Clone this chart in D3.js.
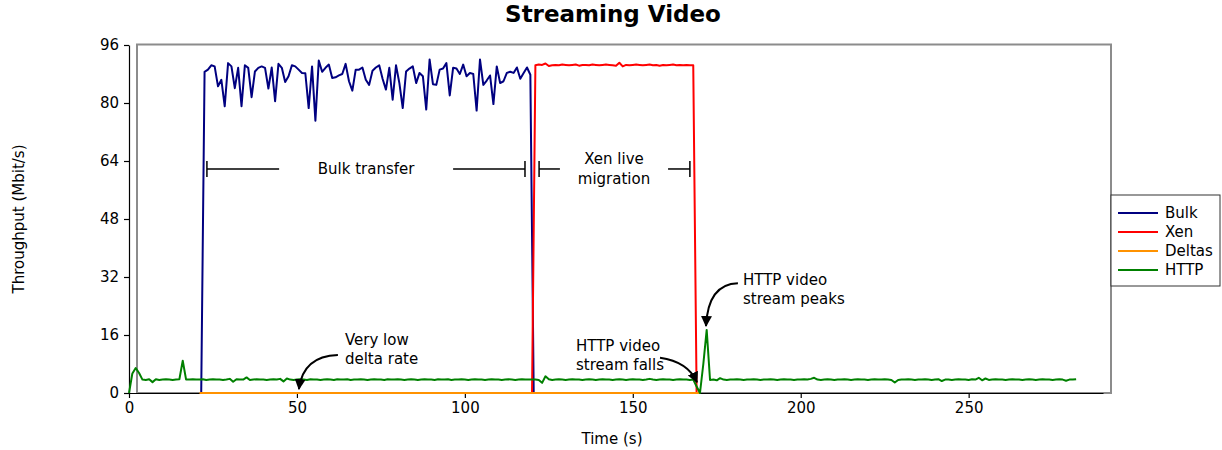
<!DOCTYPE html>
<html lang="en">
<head>
<meta charset="utf-8">
<style>
  body { margin: 0; background: #fff; font-family: "DejaVu Sans", sans-serif; }
  svg text { font-family: "DejaVu Sans", sans-serif; }
  .axis text { font-size: 15px; fill: #000; }
  .axis path, .axis line { stroke: #000; stroke-width: 1.2px; }
  .series { fill: none; stroke-width: 2px; stroke-linejoin: round; }
  .note { font-size: 15px; fill: #000; }
</style>
</head>
<body>
<div id="chart"></div>
<script src="https://d3js.org/d3.v7.min.js"></script>
<script>
  // time axis in seconds, one sample per second
  var xTicks = [0, 50, 100, 150, 200, 250];
  var yTicks = [0, 16, 32, 48, 64, 80, 96];

  var seriesNames = ["Bulk", "Xen", "Deltas", "HTTP"];
  var seriesColors = ["#000080", "#ff0000", "#ff9200", "#008000"];

  var bulkStart = 21.5;
  var bulkValues = [0,
    88.6, 89.2, 90.4, 90.1, 84.6, 86.4, 79.1, 91.0, 90.1, 84.1,
    89.7, 79.1, 90.4, 89.7, 81.6, 88.7, 89.7, 90.1, 89.7, 84.0,
    89.8, 80.5, 90.8, 89.7, 85.8, 87.4, 90.4, 90.1, 89.2, 88.3,
    88.2, 78.6, 90.1, 75.1, 91.7, 88.6, 89.7, 90.6, 86.9, 87.1,
    87.6, 88.0, 90.8, 86.0, 83.4, 89.2, 89.2, 89.8, 86.4, 85.0,
    88.9, 89.8, 90.4, 86.7, 83.7, 89.7, 80.9, 90.4, 85.5, 78.6,
    88.7, 89.5, 90.1, 85.5, 88.3, 87.4, 78.2, 92.0, 85.2, 85.0,
    89.2, 89.5, 91.0, 82.1, 89.7, 89.5, 88.0, 90.6, 87.4, 88.3,
    88.0, 77.9, 92.0, 85.0, 86.2, 87.6, 79.7, 90.1, 85.5, 86.0,
    88.3, 88.6, 88.3, 89.8, 86.7, 88.3, 89.8, 87.8,
    0];

  var xenStart = 120;
  var xenValues = [0,
    90.4, 90.6, 90.5, 90.9, 90.2, 90.4, 90.5, 90.4, 90.6, 90.5,
    90.4, 90.5, 90.6, 90.3, 90.5, 90.5, 90.4, 90.6, 90.5, 90.4,
    90.5, 90.6, 90.5, 90.4, 90.3, 91.1, 90.1, 90.5, 90.4, 90.5,
    90.6, 90.5, 90.4, 90.5, 90.6, 90.4, 90.5, 90.3, 90.5, 90.4,
    90.5, 90.6, 90.4, 90.5, 90.4, 90.5, 90.4, 90.4,
    0];

  var deltaStart = 21;
  var deltaValues = [
    0.0, 0.0, 0.0, 0.0, 0.0, 0.0, 0.0, 0.0, 0.0, 0.0, 0.0, 0.0, 0.0, 0.0, 0.0,
    0.0, 0.0, 0.0, 0.0, 0.0, 0.0, 0.0, 0.0, 0.0, 0.0, 0.0, 0.0, 0.0, 0.0, 0.0,
    0.0, 0.0, 0.0, 0.0, 0.0, 0.0, 0.0, 0.0, 0.0, 0.0, 0.0, 0.0, 0.0, 0.0, 0.0,
    0.0, 0.0, 0.0, 0.0, 0.0, 0.0, 0.0, 0.0, 0.0, 0.0, 0.0, 0.0, 0.0, 0.0, 0.0,
    0.0, 0.0, 0.0, 0.0, 0.0, 0.0, 0.0, 0.0, 0.0, 0.0, 0.0, 0.0, 0.0, 0.0, 0.0,
    0.0, 0.0, 0.0, 0.0, 0.0, 0.0, 0.0, 0.0, 0.0, 0.0, 0.0, 0.0, 0.0, 0.0, 0.0,
    0.0, 0.0, 0.0, 0.0, 0.0, 0.0, 0.0, 0.0, 0.0, 0.0, 0.0, 0.0, 0.0, 0.0, 0.0,
    0.0, 0.0, 0.0, 0.0, 0.0, 0.0, 0.0, 0.0, 0.0, 0.0, 0.0, 0.0, 0.0, 0.0, 0.0,
    0.0, 0.0, 0.0, 0.0, 0.0, 0.0, 0.0, 0.0, 0.0, 0.0, 0.0, 0.0, 0.0, 0.0, 0.0,
    0.0, 0.0, 0.0, 0.0, 0.0, 0.0, 0.0, 0.0, 0.0, 0.0, 0.0, 0.0, 0.0, 0.0, 0.0];

  var httpStart = 0;
  var httpValues = [
    0.0, 5.4, 6.9, 5.5, 3.7, 3.6, 3.8, 3.0, 3.8, 3.6, 3.7, 3.8, 3.7, 3.6, 3.7, 3.8, 8.9, 3.7, 3.7, 3.8,
    3.7, 3.7, 3.8, 3.6, 3.7, 3.8, 3.7, 3.7, 3.6, 3.7, 3.9, 3.1, 3.8, 3.7, 3.7, 4.3, 3.6, 3.7, 3.8, 3.7,
    3.7, 3.6, 3.7, 3.8, 3.7, 3.9, 3.2, 4.0, 3.7, 3.6, 3.7, 3.8, 3.7, 3.6, 3.8, 3.7, 3.7, 3.6, 3.7, 3.8,
    3.7, 3.6, 3.8, 3.7, 3.7, 3.8, 3.6, 3.7, 3.7, 3.8, 3.7, 3.6, 3.7, 3.8, 3.7, 3.7, 3.6, 3.8, 3.7, 3.7,
    3.8, 3.7, 3.6, 3.7, 3.8, 3.7, 3.6, 3.7, 3.8, 3.7, 3.7, 3.6, 3.8, 3.7, 3.7, 3.8, 3.6, 3.7, 3.7, 3.8,
    3.7, 3.6, 3.7, 3.8, 3.7, 3.7, 3.6, 3.7, 3.8, 3.7, 3.7, 3.6, 3.7, 3.8, 3.7, 3.6, 3.7, 3.8, 3.7, 3.7,
    3.7, 3.7, 3.6, 2.8, 4.6, 3.8, 3.6, 3.7, 3.8, 3.7, 3.6, 3.7, 3.8, 3.7, 3.7, 3.6, 3.7, 3.8, 3.7, 3.6,
    3.7, 3.8, 3.7, 3.7, 3.6, 3.7, 3.8, 3.7, 3.6, 3.7, 3.8, 3.7, 3.7, 3.6, 3.7, 3.9, 3.7, 3.6, 3.7, 3.8,
    3.7, 3.7, 3.6, 3.7, 3.8, 3.7, 3.7, 3.6, 3.7, 1.8, 0.0, 8.0, 17.4, 3.6, 3.7, 3.5, 4.1, 3.7, 3.6, 3.7,
    3.7, 3.8, 3.7, 3.6, 3.7, 3.7, 3.8, 3.7, 3.6, 3.7, 3.7, 3.8, 3.7, 3.6, 3.7, 3.8, 3.7, 3.7, 3.6, 3.7,
    3.7, 3.8, 3.7, 3.9, 4.2, 3.7, 3.6, 3.7, 3.8, 3.7, 3.6, 3.7, 3.7, 3.8, 3.7, 3.6, 3.7, 3.8, 3.7, 3.7,
    3.6, 3.7, 3.8, 3.7, 3.7, 3.8, 3.7, 3.6, 2.9, 3.6, 3.7, 3.7, 3.8, 3.7, 3.6, 3.7, 3.7, 3.8, 3.7, 3.6,
    3.7, 3.8, 3.3, 3.7, 3.7, 3.6, 3.7, 3.8, 3.7, 3.7, 3.6, 3.8, 3.7, 4.2, 3.5, 4.0, 3.6, 3.7, 3.8, 3.7,
    3.7, 3.6, 3.7, 3.8, 3.7, 3.7, 3.6, 3.7, 3.8, 3.7, 3.6, 3.7, 3.8, 3.7, 3.7, 3.6, 3.7, 3.8, 3.7, 3.4,
    3.7, 3.7, 3.8];

  // annotation texts, anchored in data units (t, Mbit/s)
  var bracketLabels = [["Bulk transfer"], ["Xen live", "migration"]];
  var bracketSpans = [[23.2, 44.7, 96.5, 117.9], [122.1, 128.3, 160.5, 167.0]];
  var bracketLevel = 61.8;

  var noteLines = [["Very low", "delta rate"], ["HTTP video", "stream falls"], ["HTTP video", "stream peaks"]];
  var noteAnchors = [[64.3, 14.6], [133.1, 13.0], [182.8, 31.2]];
  var arrowPaths = [
    [[62.2, 10.5], [51.8, 10.2], [50.6, 1.1]],
    [[158.1, 9.7], [166.4, 8.6], [169.1, 3.0]],
    [[181.3, 30.3], [172.4, 30.1], [171.8, 18.5]]
  ];

  var width = 1222, height = 450;
  var margin = {left: 129, right: 119, top: 45, bottom: 57};

  var svg = d3.select("#chart").append("svg")
      .attr("width", width)
      .attr("height", height);

  var x = d3.scaleLinear().domain([0, 290]).range([margin.left, width - margin.right]);
  var y = d3.scaleLinear().domain([0, 96]).range([height - margin.bottom, margin.top]);

  // grey frame, shifted right of the axes
  svg.append("rect")
      .attr("x", x(0) + 8).attr("y", y(96) - 0.5)
      .attr("width", x(290) - x(0)).attr("height", y(0) - y(96) + 0.5)
      .attr("fill", "none").attr("stroke", "#8c8c8c").attr("stroke-width", 2);

  var line = d3.line().x(function (d) { return x(d[0]); }).y(function (d) { return y(d[1]); });

  function toPoints(start, values) {
      return values.map(function (v, i) { return [start + i, v]; });
  }

  var allSeries = [
      toPoints(bulkStart, bulkValues),
      toPoints(xenStart, xenValues),
      toPoints(deltaStart, deltaValues),
      toPoints(httpStart, httpValues)
  ];

  svg.append("g").attr("class", "axis")
      .attr("transform", "translate(0," + y(0) + ")")
      .call(d3.axisBottom(x).tickValues(xTicks).tickSize(5).tickSizeOuter(0).tickPadding(4));

  svg.append("g").attr("class", "axis")
      .attr("transform", "translate(" + x(0) + ",0)")
      .call(d3.axisLeft(y).tickValues(yTicks).tickSize(5).tickSizeOuter(0).tickPadding(5));

  svg.selectAll("path.series")
      .data(allSeries)
      .enter().append("path")
      .attr("class", "series")
      .attr("stroke", function (d, i) { return seriesColors[i]; })
      .attr("stroke-width", function (d, i) { return i === 2 ? 2.5 : 2; })
      .attr("d", line);

  // title and axis labels
  svg.append("text").attr("x", 613).attr("y", 22)
      .attr("text-anchor", "middle").attr("font-size", 23).attr("font-weight", "bold")
      .text("Streaming Video");
  svg.append("text").attr("x", 612).attr("y", 444)
      .attr("text-anchor", "middle").attr("font-size", 15)
      .text("Time (s)");
  svg.append("text")
      .attr("transform", "translate(24," + y(48) + ") rotate(-90)")
      .attr("text-anchor", "middle").attr("font-size", 15)
      .text("Throughput (Mbit/s)");

  // brackets
  bracketSpans.forEach(function (s, i) {
      var g = svg.append("g").attr("stroke", "#000").attr("stroke-width", 1.5);
      var yy = y(bracketLevel);
      g.append("line").attr("x1", x(s[0])).attr("x2", x(s[1])).attr("y1", yy).attr("y2", yy);
      g.append("line").attr("x1", x(s[2])).attr("x2", x(s[3])).attr("y1", yy).attr("y2", yy);
      g.append("line").attr("x1", x(s[0])).attr("x2", x(s[0])).attr("y1", yy - 8).attr("y2", yy + 8);
      g.append("line").attr("x1", x(s[3])).attr("x2", x(s[3])).attr("y1", yy - 8).attr("y2", yy + 8);
      var lines = bracketLabels[i];
      var cx = (x(s[1]) + x(s[2])) / 2;
      var t = svg.append("text").attr("class", "note").attr("text-anchor", "middle");
      lines.forEach(function (l, j) {
          t.append("tspan").attr("x", cx)
              .attr("y", yy + 5 + (j - (lines.length - 1) / 2) * 20)
              .text(l);
      });
  });

  // notes with curved arrows
  svg.append("defs").append("marker")
      .attr("id", "head")
      .attr("viewBox", "0 -5 10 10")
      .attr("refX", 9).attr("refY", 0)
      .attr("markerUnits", "userSpaceOnUse")
      .attr("markerWidth", 11).attr("markerHeight", 11)
      .attr("orient", "auto")
      .append("path").attr("d", "M0,-5L10,0L0,5Z").attr("fill", "#000");

  noteLines.forEach(function (lines, i) {
      var a = noteAnchors[i];
      var t = svg.append("text").attr("class", "note");
      lines.forEach(function (l, j) {
          t.append("tspan").attr("x", x(a[0])).attr("y", y(a[1]) + 5 + j * 19).text(l);
      });
      var p = arrowPaths[i];
      svg.append("path")
          .attr("d", "M" + x(p[0][0]) + "," + y(p[0][1]) +
                     "Q" + x(p[1][0]) + "," + y(p[1][1]) + " " + x(p[2][0]) + "," + y(p[2][1]))
          .attr("fill", "none").attr("stroke", "#000").attr("stroke-width", 2)
          .attr("marker-end", "url(#head)");
  });

  // legend
  var legend = svg.append("g").attr("transform", "translate(1111,195)");
  legend.append("rect").attr("width", 109).attr("height", 91)
      .attr("fill", "#fff").attr("stroke", "#333").attr("stroke-width", 1);
  seriesNames.forEach(function (name, i) {
      var row = legend.append("g").attr("transform", "translate(0," + (18 + i * 19) + ")");
      row.append("line").attr("x1", 7).attr("x2", 47)
          .attr("stroke", seriesColors[i]).attr("stroke-width", 2);
      row.append("text").attr("x", 54).attr("y", 5).attr("font-size", 15).text(name);
  });
</script>
</body>
</html>
